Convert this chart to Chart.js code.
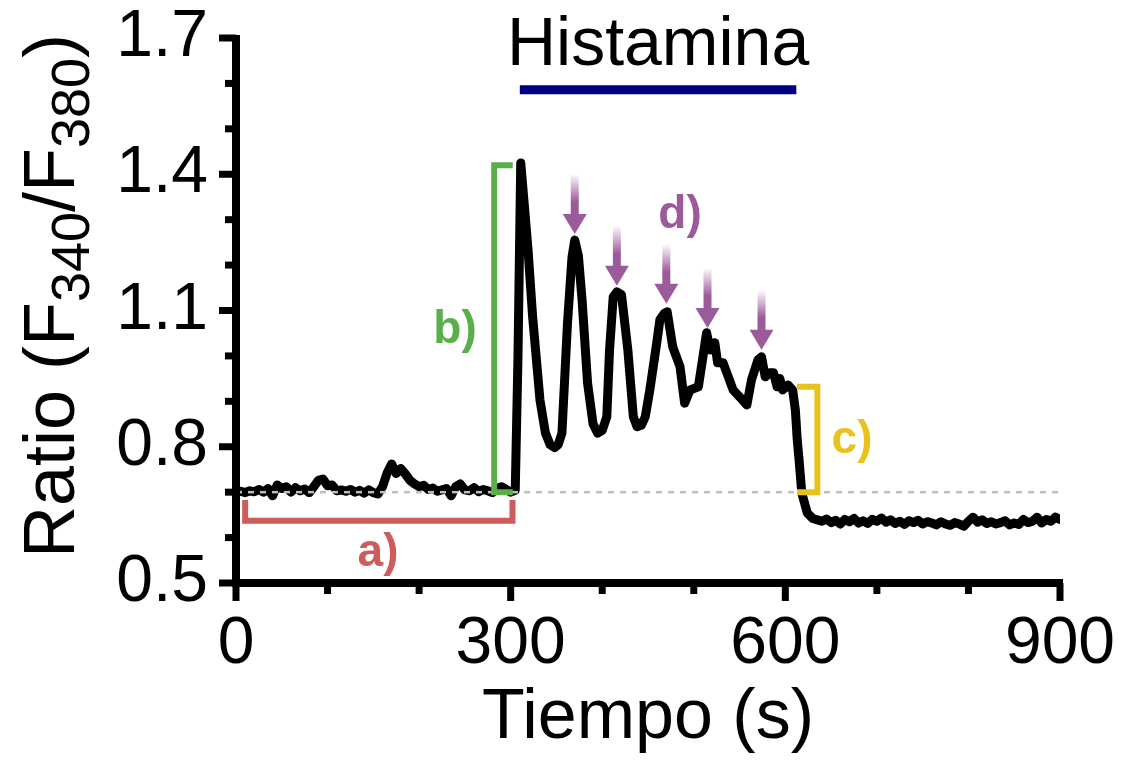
<!DOCTYPE html>
<html lang="es">
  <head>
    <meta charset="UTF-8" />
    <title>Histamina - Ratio F340/F380</title>
    <style>
      body { margin: 0; background: #fff; }
      #wrap { width: 1122px; height: 761px; position: relative; }
    </style>
  </head>
  <body>
    <div id="wrap"><canvas id="ratio-chart"></canvas></div>

    <script src="https://cdn.jsdelivr.net/npm/chart.js"></script>
    <script>
      // trace: time (s) and ratio
      const timeSec = [
        0, 5, 10, 15, 20, 25, 30, 35, 40, 45, 50, 55, 60, 65, 70, 75, 80, 85, 90, 95,
        100, 105, 110, 115, 120, 125, 130, 135, 140, 145, 150, 155, 160, 165, 170, 175,
        180, 185, 190, 195, 200, 205, 210, 215, 220, 225, 230, 235, 240, 245, 250, 255,
        260, 265, 270, 275, 280, 285, 290, 295, 300, 305, 308, 311, 315, 319, 324, 332,
        338, 343, 348, 352, 356, 362, 367, 370, 374, 378, 384, 390, 395, 400, 405, 408,
        412, 416, 421, 428, 434, 438, 443, 447, 452, 460, 463, 468, 471, 477, 485, 490,
        496, 505, 510, 514, 518, 523, 526, 532, 543, 550, 558, 563, 570, 574, 578, 583,
        587, 591, 594, 597, 603, 608, 611, 613, 615, 618, 624, 630, 635, 640, 645, 650,
        655, 660, 665, 670, 675, 680, 685, 690, 695, 700, 705, 710, 715, 720, 725, 730,
        735, 740, 745, 750, 755, 760, 765, 770, 775, 780, 785, 790, 795, 800, 805, 810,
        815, 820, 825, 830, 835, 840, 845, 850, 855, 860, 865, 870, 875, 880, 885, 890,
        895, 900
      ];
      const ratioValues = [
        0.700, 0.702, 0.699, 0.703, 0.701, 0.706, 0.700, 0.708, 0.692, 0.716, 0.708, 0.712,
        0.700, 0.710, 0.703, 0.707, 0.699, 0.712, 0.726, 0.729, 0.714, 0.716, 0.703, 0.705,
        0.702, 0.706, 0.700, 0.704, 0.698, 0.705, 0.699, 0.696, 0.712, 0.742, 0.762, 0.741,
        0.752, 0.740, 0.726, 0.718, 0.712, 0.715, 0.706, 0.709, 0.702, 0.705, 0.708, 0.692,
        0.712, 0.718, 0.705, 0.703, 0.710, 0.701, 0.706, 0.703, 0.699, 0.708, 0.712, 0.706,
        0.700, 0.704, 1.000, 1.425, 1.330, 1.233, 1.086, 0.903, 0.830, 0.805, 0.798, 0.805,
        0.830, 1.070, 1.218, 1.255, 1.220, 1.123, 0.940, 0.850, 0.830, 0.836, 0.866, 1.013,
        1.130, 1.141, 1.135, 1.013, 0.866, 0.844, 0.848, 0.866, 0.925, 1.035, 1.080, 1.094,
        1.097, 1.020, 0.976, 0.896, 0.925, 0.932, 0.998, 1.051, 1.013, 1.029, 0.985, 0.985,
        0.925, 0.910, 0.892, 0.947, 0.991, 0.998, 0.954, 0.963, 0.963, 0.932, 0.950, 0.925,
        0.936, 0.925, 0.880, 0.815, 0.771, 0.698, 0.654, 0.642, 0.639, 0.636, 0.641, 0.633,
        0.638, 0.630, 0.640, 0.635, 0.642, 0.632, 0.637, 0.631, 0.640, 0.636, 0.643, 0.634,
        0.639, 0.631, 0.636, 0.629, 0.637, 0.633, 0.638, 0.630, 0.635, 0.632, 0.628, 0.635,
        0.630, 0.627, 0.633, 0.630, 0.625, 0.636, 0.645, 0.634, 0.639, 0.631, 0.635, 0.630,
        0.633, 0.637, 0.628, 0.632, 0.629, 0.640, 0.633, 0.636, 0.645, 0.632, 0.640, 0.636,
        0.645, 0.640
      ];
      // resting baseline (dashed)
      const baselineX = [0, 900];
      const baselineY = [0.7, 0.7];

      // axis ticks
      const xMajorTicks = [0, 300, 600, 900];
      const xMinorTicks = [100, 200, 400, 500, 700, 800];
      const yMajorTicks = [0.5, 0.8, 1.1, 1.4, 1.7];
      const yMinorTicks = [0.6, 0.7, 0.9, 1.0, 1.2, 1.3, 1.5, 1.6];

      // oscillation peaks marked with arrows (d)
      const peakX = [370, 416, 470, 515, 574];
      const peakY = [1.262, 1.148, 1.108, 1.055, 1.007];

      // histamine application window
      const histaminaStart = 310;
      const histaminaEnd = 612;

      const FONT = '"Liberation Sans", Arial, Helvetica, sans-serif';

      const points = timeSec.map((t, i) => ({ x: t, y: ratioValues[i] }));
      const basePoints = baselineX.map((t, i) => ({ x: t, y: baselineY[i] }));

      function line(ctx, x1, y1, x2, y2) {
        ctx.beginPath();
        ctx.moveTo(x1, y1);
        ctx.lineTo(x2, y2);
        ctx.stroke();
      }

      const decorations = {
        id: "decorations",
        afterDraw(chart) {
          const { ctx, chartArea, scales } = chart;
          const px = (v) => scales.x.getPixelForValue(v);
          const py = (v) => scales.y.getPixelForValue(v);
          const L = chartArea.left, B = chartArea.bottom;
          ctx.save();

          // axes
          ctx.strokeStyle = "#000";
          ctx.lineWidth = 8;
          ctx.lineCap = "butt";
          line(ctx, L, py(1.7) - 3, L, B + 4);
          line(ctx, L - 4, B, px(900) + 3, B);
          ctx.lineWidth = 7;
          yMajorTicks.forEach((v) => line(ctx, L - 17, py(v), L, py(v)));
          yMinorTicks.forEach((v) => line(ctx, L - 11, py(v), L, py(v)));
          xMajorTicks.forEach((v) => line(ctx, px(v), B, px(v), B + 18));
          xMinorTicks.forEach((v) => line(ctx, px(v), B, px(v), B + 11));

          // y title with subscripts
          ctx.save();
          ctx.translate(74, 296);
          ctx.rotate(-Math.PI / 2);
          ctx.fillStyle = "#000";
          ctx.textBaseline = "alphabetic";
          const big = "72px " + FONT, small = "54px " + FONT;
          const parts = [
            ["Ratio (F", big, 0], ["340", small, 15], ["/F", big, 0],
            ["380", small, 15], [")", big, 0]
          ];
          let total = 0;
          parts.forEach((p) => { ctx.font = p[1]; total += ctx.measureText(p[0]).width; });
          let cx = -total / 2;
          parts.forEach((p) => {
            ctx.font = p[1];
            ctx.fillText(p[0], cx, p[2]);
            cx += ctx.measureText(p[0]).width;
          });
          ctx.restore();

          // histamina bar and label
          ctx.strokeStyle = "#000080";
          ctx.lineWidth = 9;
          line(ctx, px(histaminaStart), py(1.586), px(histaminaEnd), py(1.586));
          ctx.fillStyle = "#000";
          ctx.font = "68px " + FONT;
          ctx.textAlign = "center";
          ctx.textBaseline = "alphabetic";
          ctx.fillText("Histamina", px(461), py(1.64));

          // a) bracket
          ctx.lineCap = "square";
          ctx.lineJoin = "miter";
          ctx.lineWidth = 6;
          ctx.strokeStyle = "#cd5c5c";
          ctx.beginPath();
          ctx.moveTo(px(10), py(0.676));
          ctx.lineTo(px(10), py(0.637));
          ctx.lineTo(px(302), py(0.637));
          ctx.lineTo(px(302), py(0.676));
          ctx.stroke();
          // b) bracket
          ctx.strokeStyle = "#5aaf4b";
          ctx.beginPath();
          ctx.moveTo(px(299), py(1.42));
          ctx.lineTo(px(282), py(1.42));
          ctx.lineTo(px(282), py(0.70));
          ctx.lineTo(px(299), py(0.70));
          ctx.stroke();
          // c) bracket
          ctx.strokeStyle = "#e8c31e";
          ctx.beginPath();
          ctx.moveTo(px(616), py(0.932));
          ctx.lineTo(px(635), py(0.932));
          ctx.lineTo(px(635), py(0.70));
          ctx.lineTo(px(616), py(0.70));
          ctx.stroke();

          // labels
          ctx.font = "bold 46px " + FONT;
          ctx.textBaseline = "middle";
          ctx.fillStyle = "#cd5c5c";
          ctx.fillText("a)", 378, 553);
          ctx.fillStyle = "#5aaf4b";
          ctx.fillText("b)", 455, 330);
          ctx.fillStyle = "#e8c31e";
          ctx.fillText("c)", 852, 440);
          ctx.fillStyle = "#9b5b9b";
          ctx.fillText("d)", 680, 215);

          // arrows
          peakX.forEach((t, i) => {
            const x = px(t), tip = py(peakY[i]) - 3;
            const g = ctx.createLinearGradient(0, tip - 60, 0, tip - 32);
            g.addColorStop(0, "rgba(155,91,155,0)");
            g.addColorStop(1, "rgba(155,91,155,1)");
            ctx.fillStyle = g;
            ctx.fillRect(x - 4, tip - 60, 8, 42);
            ctx.fillStyle = "#9b5b9b";
            ctx.beginPath();
            ctx.moveTo(x - 12, tip - 20);
            ctx.lineTo(x + 12, tip - 20);
            ctx.lineTo(x, tip);
            ctx.closePath();
            ctx.fill();
          });
          ctx.restore();
        }
      };

      const chart = new Chart(document.getElementById("ratio-chart"), {
        type: "line",
        data: {
          datasets: [
            {
              data: basePoints,
              borderColor: "#bdbdbd",
              borderWidth: 2.5,
              borderDash: [6, 6],
              pointRadius: 0
            },
            {
              data: points,
              borderColor: "#000",
              borderWidth: 9,
              borderJoinStyle: "round",
              borderCapStyle: "round",
              pointRadius: 0,
              tension: 0
            }
          ]
        },
        options: {
          responsive: true,
          maintainAspectRatio: false,
          animation: false,
          layout: { padding: { top: 38, right: 62, left: 0, bottom: 0 } },
          plugins: { legend: { display: false }, tooltip: { enabled: false } },
          scales: {
            x: {
              type: "linear",
              min: 0,
              max: 900,
              afterFit: (s) => { s.height = 178; s.paddingLeft = 0; s.paddingRight = 0; },
              afterBuildTicks: (s) => { s.ticks = xMajorTicks.map((v) => ({ value: v })); },
              grid: { display: false },
              border: { display: false },
              ticks: { color: "#000", padding: 14, maxRotation: 0, font: { family: FONT, size: 66 } },
              title: { display: true, text: "Tiempo (s)", color: "#000", padding: 0, font: { family: FONT, size: 70 } }
            },
            y: {
              type: "linear",
              min: 0.5,
              max: 1.7,
              afterFit: (s) => { s.width = 236; s.paddingTop = 0; s.paddingBottom = 0; },
              afterBuildTicks: (s) => { s.ticks = yMajorTicks.map((v) => ({ value: v })); },
              grid: { display: false },
              border: { display: false },
              ticks: {
                color: "#000",
                padding: 20,
                font: { family: FONT, size: 66 },
                callback: (v) => Number(v).toFixed(1)
              }
            }
          }
        },
        plugins: [decorations]
      });
    </script>
  </body>
</html>
